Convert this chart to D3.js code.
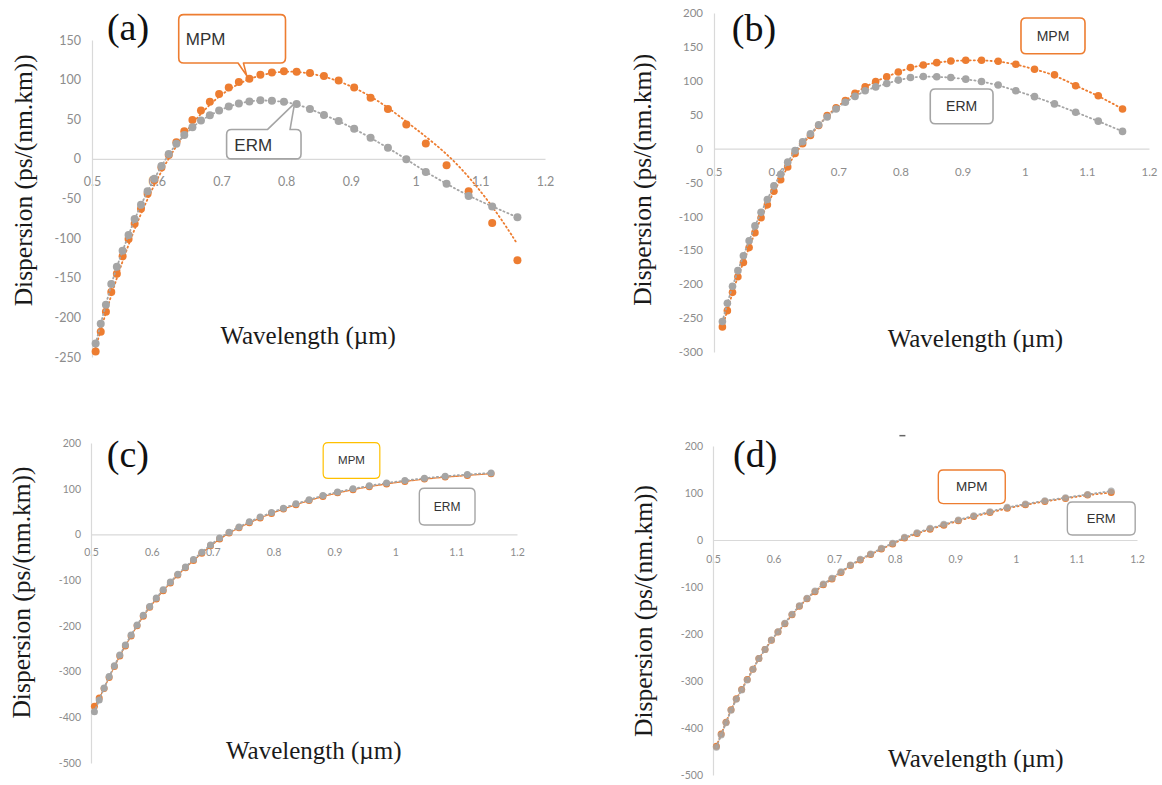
<!DOCTYPE html>
<html><head><meta charset="utf-8">
<script src="https://cdnjs.cloudflare.com/ajax/libs/d3/7.8.5/d3.min.js"></script>
<style>body{margin:0;background:#fff}svg{display:block}</style>
</head><body>
<svg id="c" width="1162" height="785"></svg>
<script>
// ---------- DATA ----------
const wavelengths = [0.5056,0.5135,0.5215,0.5298,0.5384,0.5473,0.5565,0.5659,0.5757,0.5859,0.5964,0.6073,0.6186,0.6304,0.6426,0.6552,0.6684,0.6821,0.6964,0.7113,0.7269,0.7432,0.7602,0.7780,0.7966,0.8162,0.8368,0.8584,0.8811,0.9051,0.9305,0.9573,0.9857,1.0158,1.0479,1.0820,1.1184,1.1574];

const xTickValues = [0.5,0.6,0.7,0.8,0.9,1.0,1.1,1.2];
const xTickLabels = ["0.5","0.6","0.7","0.8","0.9","1","1.1","1.2"];

const yTicksA = [150,100,50,0,-50,-100,-150,-200,-250];
const yLabelsA = ["150","100","50","0","-50","-100","-150","-200","-250"];
const yTicksB = [200,150,100,50,0,-50,-100,-150,-200,-250,-300];
const yLabelsB = ["200","150","100","50","0","-50","-100","-150","-200","-250","-300"];
const yTicksCD = [200,100,0,-100,-200,-300,-400,-500];
const yLabelsCD = ["200","100","0","-100","-200","-300","-400","-500"];

// panel (a)
const aMPM = [-243,-218,-193,-168,-145,-123,-101,-82,-63,-44,-27,-11,5,21,35,49,61,72,82,90,97,101,106,109,110.5,110,108.5,104.5,99,90,77,63,43.5,19.5,-8,-41,-81,-128];
const aERM = [-233,-208,-184,-158,-136,-116,-96,-76,-58,-41,-25,-9,6,19,30,40,48.5,55,61,66,70,72.5,74,73.4,72,69.2,63,55.5,47.7,38,26.5,14,-0.4,-16.6,-31.5,-46.8,-60,-73.8];
const aMPMTrend = [[0.5056,-238],[0.53,-170],[0.56,-98],[0.6,-23],[0.65,43],[0.7,84],[0.75,105],[0.8,112],[0.85,107],[0.9,93],[0.95,70],[1.0,38],[1.06,0],[1.12,-60],[1.157,-107]];

// panel (b) (starts at the 2nd wavelength)
const bMPM = [-263,-239,-212,-189,-168,-146,-124,-102,-83,-63,-46,-27,-7.3,7.3,19.5,34,48.8,60,70.7,81.5,91,99,106,113,119.5,123.4,126.8,129.3,130.2,130.2,128.8,124.4,117,108.8,92.7,78,58.5];
const bERM = [-255,-228,-203,-180,-158,-136,-114,-94,-75,-55,-38,-20,-3,10,22,35,46.5,58.5,68.3,77,85.4,91,96,101,104.9,106.3,105.9,104.9,102.4,99,93.7,85.4,76.6,65.9,53.7,40.5,25.4];

// panel (c)
const cMPM = [-376,-358,-337,-313,-289,-266,-244,-222,-200,-179,-159.5,-141,-123,-106,-89,-73,-57,-41,-25,-10,3,14.5,25.5,36,46,55.5,65,74,83,91,98,104.5,110.5,116,121,125.5,129,133];
const cERM = [-388,-362,-336,-311,-287,-264,-242,-220,-198,-177,-157.5,-139,-121,-104,-87,-71,-55,-39,-23,-8,5,16.5,27.5,38,48,57.5,67,76,85,93,100,106.5,112.5,118,123,127.5,131,134.5];

// panel (d)
const dMPM = [-439,-413,-388,-361,-338,-318,-297,-275,-252,-233,-213.5,-196,-178,-159,-141,-125,-110,-95,-83,-69,-54.5,-42.5,-31,-19,-8.5,4,14,23,31.5,41,50,58.5,67.5,75,82,88.5,95.5,101];
const dERM = [-441,-415,-389,-362,-339,-319,-298,-275,-252,-233,-213,-195,-177,-158,-140,-124,-108.5,-93.6,-81.6,-67.4,-53,-41,-29.8,-17.7,-7,5.7,15.6,24.8,33.3,42.6,51.8,60.3,69.5,76.6,83.7,90,97,104];

// ---------- STYLE / LAYOUT ----------
const ORANGE = "#ED7D31", GREY = "#A5A5A5";
const serif = "'Liberation Serif','Times New Roman',serif";
const sans = "Lato,'Open Sans',sans-serif";

const panels = [
  {id:"(a)", x0:92, x1:545, yTop:40, yBot:357, yDom:[-250,150], yTicks:yTicksA, yLabels:yLabelsA,
   tickFont:12.5, xPad:18, yPad:11, r:4,
   mpm:{w:wavelengths, v:aMPM, trend:aMPMTrend}, erm:{w:wavelengths, v:aERM},
   lbl:[0.523,150], xt:[0.834,-233], yt:[0.394,-27],
   boxes:[
     {col:ORANGE, sw:1.6, box:[0.634,0.799,182,121], text:"MPM", tx:[0.645,144], fs:17, anchor:"start", ptr:{side:"bottom", a:0.7257, b:0.734, tip:[0.739,105]}},
     {col:GREY, sw:1.6, box:[0.708,0.823,37,0], text:"ERM", tx:[0.72,10], fs:17, anchor:"start", ptr:{side:"top", a:0.771, b:0.806, tip:[0.813,70]}}
   ]},
  {id:"(b)", x0:714, x1:1149, yTop:13, yBot:352, yDom:[-300,200], yTicks:yTicksB, yLabels:yLabelsB,
   tickFont:11.5, xPad:19, yPad:11, r:3.8,
   mpm:{w:wavelengths.slice(1), v:bMPM}, erm:{w:wavelengths.slice(1), v:bERM},
   lbl:[0.5286,158.5], xt:[0.9207,-292], yt:[0.3854,-46],
   boxes:[
     {col:ORANGE, sw:1.6, box:[0.994,1.097,192.7,140], text:"MPM", fs:14, anchor:"middle"},
     {col:GREY, sw:1.6, box:[0.848,0.949,87.8,36.6], text:"ERM", fs:14, anchor:"middle"}
   ]},
  {id:"(c)", x0:91, x1:517, yTop:443, yBot:763, yDom:[-500,200], yTicks:yTicksCD, yLabels:yLabelsCD,
   tickFont:10.5, xPad:14, yPad:10, r:3.5, solidTrend:true,
   mpm:{w:wavelengths, v:cMPM}, erm:{w:wavelengths, v:cERM},
   lbl:[0.526,147], xt:[0.866,-492], yt:[0.3855,-127],
   boxes:[
     {col:"#FFC000", sw:1.2, box:[0.8815,0.9746,201,122.6], text:"MPM", fs:11.5, anchor:"middle"},
     {col:GREY, sw:1.4, box:[1.0395,1.131,101,20.7], text:"ERM", fs:12, anchor:"middle"}
   ]},
  {id:"(d)", x0:713, x1:1137, yTop:446, yBot:775, yDom:[-500,200], yTicks:yTicksCD, yLabels:yLabelsCD,
   tickFont:10.5, xPad:16, yPad:10, r:3.5, blend:true,
   mpm:{w:wavelengths, v:dMPM}, erm:{w:wavelengths, v:dERM},
   lbl:[0.533,155], xt:[0.934,-482], yt:[0.3847,-151],
   boxes:[
     {col:ORANGE, sw:1.4, box:[0.872,0.9825,149,77.5], text:"MPM", fs:13.5, anchor:"middle"},
     {col:GREY, sw:1.4, box:[1.085,1.197,81,10.6], text:"ERM", fs:13, anchor:"middle"}
   ], dash:[0.8127,222]}
];

const svg = d3.select("#c");

function calloutPath(x0,x1,y0,y1,r,ptr,x,y){
  let p = `M${x0+r},${y0}`;
  if(ptr && ptr.side==="top"){
    p += `H${x(ptr.a)}L${x(ptr.tip[0])},${y(ptr.tip[1])}L${x(ptr.b)},${y0}`;
  }
  p += `H${x1-r}Q${x1},${y0} ${x1},${y0+r}V${y1-r}Q${x1},${y1} ${x1-r},${y1}`;
  if(ptr && ptr.side==="bottom"){
    p += `H${x(ptr.b)}L${x(ptr.tip[0])},${y(ptr.tip[1])}L${x(ptr.a)},${y1}`;
  }
  p += `H${x0+r}Q${x0},${y1} ${x0},${y1-r}V${y0+r}Q${x0},${y0} ${x0+r},${y0}Z`;
  return p;
}

panels.forEach(P => {
  const x = d3.scaleLinear().domain([0.5,1.2]).range([P.x0,P.x1]);
  const y = d3.scaleLinear().domain(P.yDom).range([P.yBot,P.yTop]);
  const g = svg.append("g");

  // axes
  const xa = g.append("g").attr("transform",`translate(0,${y(0)})`)
    .call(d3.axisBottom(x).tickValues(xTickValues).tickFormat((d,i)=>xTickLabels[i]).tickSize(0).tickPadding(P.xPad));
  const ya = g.append("g").attr("transform",`translate(${P.x0},0)`)
    .call(d3.axisLeft(y).tickValues(P.yTicks).tickFormat((d,i)=>P.yLabels[i]).tickSize(0).tickPadding(P.yPad));
  [xa,ya].forEach(a=>{
    a.select(".domain").attr("stroke","#d9d9d9").attr("stroke-width",1.2);
    a.selectAll("text").attr("font-family",sans).attr("font-size",P.tickFont).attr("fill","#8c8c8c");
  });

  // titles
  g.append("text").attr("x",x(P.xt[0])).attr("y",y(P.xt[1])).attr("text-anchor","middle")
    .attr("font-family",serif).attr("font-size",25).attr("fill","#1a1a1a").text("Wavelength (\u00b5m)");
  g.append("text").attr("transform",`translate(${x(P.yt[0])},${y(P.yt[1])}) rotate(-90)`)
    .attr("text-anchor","middle").attr("dominant-baseline","central")
    .attr("font-family",serif).attr("font-size",25.5).attr("fill","#1a1a1a").text("Dispersion (ps/(nm.km))");
  g.append("text").attr("x",x(P.lbl[0])).attr("y",y(P.lbl[1]))
    .attr("font-family",serif).attr("font-size",38).attr("fill","#111").text(P.id);

  if(P.dash){
    g.append("line").attr("x1",x(P.dash[0])-3).attr("x2",x(P.dash[0])+3)
      .attr("y1",y(P.dash[1])).attr("y2",y(P.dash[1])).attr("stroke","#666").attr("stroke-width",1.5);
  }

  const line = d3.line().x(d=>x(d[0])).y(d=>y(d[1])).curve(d3.curveBasis);
  const pts = s => s.w.map((w,i)=>[w,s.v[i]]);
  const dash = P.solidTrend ? "2.5,1.2" : "1.2,3";

  // markers: orange first
  g.append("g").selectAll("circle").data(pts(P.mpm)).join("circle")
    .attr("cx",d=>x(d[0])).attr("cy",d=>y(d[1])).attr("r",P.r).attr("fill",ORANGE);
  // orange trendline
  g.append("path").attr("d",line(P.mpm.trend || pts(P.mpm))).attr("fill","none").attr("stroke",ORANGE)
    .attr("stroke-width",P.solidTrend?1.3:1.8).attr("stroke-dasharray",dash).attr("stroke-linecap","round");
  // grey markers on top
  g.append("g").selectAll("circle").data(pts(P.erm)).join("circle")
    .attr("cx",d=>x(d[0])).attr("cy",d=>y(d[1])).attr("r",P.r).attr("fill",GREY)
    .attr("fill-opacity",P.blend?0.8:1);
  // grey trendline
  g.append("path").attr("d",line(pts(P.erm))).attr("fill","none").attr("stroke",GREY)
    .attr("stroke-width",1.8).attr("stroke-dasharray","1.2,3").attr("stroke-linecap","round");

  // callouts
  P.boxes.forEach(B=>{
    const bx0 = x(B.box[0]), bx1 = x(B.box[1]), by0 = y(B.box[2]), by1 = y(B.box[3]);
    g.append("path").attr("d",calloutPath(bx0,bx1,by0,by1,5,B.ptr,x,y))
      .attr("fill","#fff").attr("stroke",B.col).attr("stroke-width",B.sw).attr("stroke-linejoin","round");
    const t = g.append("text").attr("font-family","'Liberation Sans',Arial,sans-serif").attr("font-size",B.fs).attr("fill","#333").text(B.text);
    if(B.anchor==="middle"){
      t.attr("x",(bx0+bx1)/2).attr("y",(by0+by1)/2).attr("text-anchor","middle").attr("dominant-baseline","central");
    } else {
      t.attr("x",x(B.tx[0])).attr("y",y(B.tx[1]));
    }
  });
});
</script>
</body></html>
